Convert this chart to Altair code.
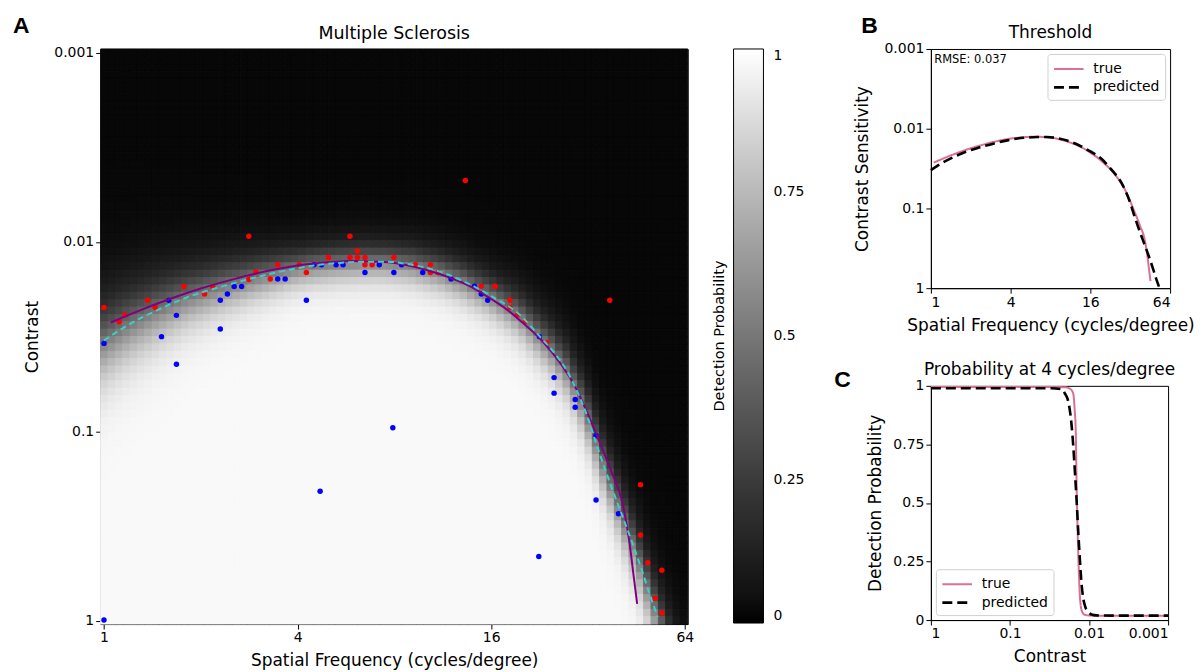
import altair as alt
import numpy as np
import pandas as pd

alt.data_transformers.disable_max_rows()

# ---------------- data ----------------
# "true" threshold curve (purple in A, pink in B): spatial frequency, contrast
true_freq = [1.05, 1.3, 1.6, 2.0, 2.5, 3.0, 4.0, 5.0, 6.0, 7.0, 8.0, 10, 12, 14, 16,
             18, 20, 23, 26, 29, 32, 35, 38, 41, 43, 44.5, 45.5]
true_contrast = [0.0266, 0.0229, 0.0200, 0.0176, 0.0158, 0.0146, 0.0133, 0.0128, 0.0126,
                 0.0127, 0.0129, 0.0140, 0.0155, 0.0174, 0.0200, 0.0229, 0.0266, 0.0331,
                 0.0427, 0.0569, 0.0813, 0.117, 0.166, 0.240, 0.380, 0.603, 0.813]

# "predicted" threshold curve (cyan dashed in A, black dashed in B)
pred_freq = [1.0, 1.2, 1.465, 1.8, 2.35, 3.0, 3.78, 4.5, 5.39, 6.35, 7.5, 9.08, 11, 13,
             16, 19.5, 23, 25, 27.5, 30, 32, 34, 36, 38, 41, 44, 47, 50, 52.7]
pred_contrast = [0.0331, 0.0272, 0.0229, 0.0197, 0.0171, 0.0153, 0.0140, 0.0133, 0.0129,
                 0.0127, 0.0127, 0.0132, 0.0143, 0.0160, 0.0193, 0.0240, 0.0324, 0.0380,
                 0.0479, 0.0646, 0.0851, 0.117, 0.155, 0.200, 0.282, 0.389, 0.537, 0.741, 0.955]

# width (in decades, 10%-90%) of the probability transition in the heatmap
width_freq = [1, 2, 4, 8, 16, 32, 64]
width_dec = [0.55, 0.38, 0.26, 0.25, 0.28, 0.38, 0.45]
p_floor, p_ceil = 0.02, 0.98

# observed trials
red_freq = [2.82, 1.0, 1.115, 1.162, 1.366, 1.442, 1.773, 2.055, 2.18, 2.97, 2.82, 3.29,
            3.47, 4.05, 4.26, 4.99, 5.82, 6.14, 5.82, 6.14, 6.48, 6.48, 6.82, 7.97, 9.30,
            10.35, 10.35, 10.93, 13.3, 14.9, 16.45, 18.3, 18.3, 19.3, 20.4, 23.8, 37.4,
            46.6, 46.6, 49.1, 54.3, 51.7, 54.3]
red_contrast = [0.00933, 0.0222, 0.0264, 0.0243, 0.0203, 0.0222, 0.01718, 0.01884, 0.01726,
                0.01439, 0.01578, 0.0157, 0.0132, 0.0132, 0.01449, 0.01208, 0.00933, 0.01114,
                0.01208, 0.01208, 0.01208, 0.0132, 0.0132, 0.01208, 0.0132, 0.0132, 0.01449,
                0.01449, 0.00473, 0.0171, 0.0171, 0.0203, 0.0222, 0.0243, 0.0264, 0.0340,
                0.0203, 0.191, 0.352, 0.493, 0.540, 0.762, 0.910]
blue_freq = [1.0, 1.59, 1.68, 1.51, 1.68, 2.30, 2.42, 2.30, 2.54, 2.68, 3.47, 3.66, 4.26,
             4.50, 4.75, 5.27, 5.54, 6.48, 7.18, 7.97, 8.42, 9.80, 12.0, 14.2, 14.9, 15.6,
             22.6, 25.1, 25.1, 29.2, 29.2, 33.9, 33.9, 39.8, 22.5, 7.91, 4.70, 1.0]
blue_contrast = [0.0343, 0.0203, 0.0244, 0.0316, 0.0442, 0.0203, 0.01884, 0.0288, 0.01718,
                 0.01718, 0.0157, 0.0157, 0.0203, 0.0132, 0.0132, 0.0132, 0.0132, 0.01449,
                 0.0132, 0.01449, 0.0132, 0.01449, 0.0157, 0.0171, 0.01884, 0.0203, 0.0316,
                 0.0520, 0.0628, 0.0679, 0.0745, 0.105, 0.230, 0.272, 0.458, 0.0957, 0.207, 0.99]

# panel C: probability at 4 cycles/degree
c_true_contrast = [1.0, 0.1, 0.03, 0.02, 0.018, 0.0165, 0.0157, 0.0152, 0.0147, 0.0144,
                   0.0141, 0.0138, 0.0134, 0.0129, 0.0122, 0.0112, 0.0095, 0.005, 0.001]
c_true_prob = [0.995, 0.995, 0.995, 0.994, 0.99, 0.98, 0.96, 0.90, 0.80, 0.60, 0.45, 0.33,
               0.19, 0.08, 0.035, 0.022, 0.019, 0.018, 0.018]
c_pred_contrast = [1.0, 0.1, 0.03, 0.022, 0.0204, 0.0182, 0.0162, 0.015, 0.0143, 0.0136,
                   0.013, 0.0124, 0.0118, 0.0112, 0.0102, 0.0093, 0.008, 0.005, 0.001]
c_pred_prob = [0.99, 0.99, 0.99, 0.985, 0.97, 0.93, 0.79, 0.62, 0.50, 0.36, 0.25, 0.15,
               0.09, 0.058, 0.035, 0.024, 0.02, 0.019, 0.019]

rmse_label = "RMSE: 0.037"
titles = {"A": "Multiple Sclerosis", "B": "Threshold", "C": "Probability at 4 cycles/degree"}

# ---------------- heatmap grid (model field around predicted threshold) ----------------
lx_edges = np.linspace(-0.034, 6.03, 81)
ly_edges = np.linspace(-3.019, 0.017, 79)
lx_c = (lx_edges[:-1] + lx_edges[1:]) / 2
ly_c = (ly_edges[:-1] + ly_edges[1:]) / 2
plx = np.log2(pred_freq)
ply = np.log10(pred_contrast)
thr = np.interp(lx_c, plx, ply)
hi = lx_c > plx[-1]
thr[hi] = ply[-1] + (lx_c[hi] - plx[-1]) * (ply[-1] - ply[-2]) / (plx[-1] - plx[-2])
lo = lx_c < plx[0]
thr[lo] = ply[0] + (lx_c[lo] - plx[0]) * (ply[1] - ply[0]) / (plx[1] - plx[0])
wid = np.interp(lx_c, np.log2(width_freq), width_dec)
kk = 2 * np.log(9) / wid

rows = []
for i in range(len(lx_c)):
    for j in range(len(ly_c)):
        p = p_floor + (p_ceil - p_floor) / (1 + np.exp(-kk[i] * (ly_c[j] - thr[i])))
        rows.append((2 ** lx_edges[i], 2 ** lx_edges[i + 1],
                     10 ** ly_edges[j], 10 ** ly_edges[j + 1], float(p)))
heat_df = pd.DataFrame(rows, columns=["f0", "f1", "c0", "c1", "p"])

true_df = pd.DataFrame({"f": true_freq, "c": true_contrast})
pred_df = pd.DataFrame({"f": pred_freq, "c": pred_contrast})
red_df = pd.DataFrame({"f": red_freq, "c": red_contrast})
blue_df = pd.DataFrame({"f": blue_freq, "c": blue_contrast})

FONT = "DejaVu Sans"
LETTER_FONT = "Liberation Sans"
FMT = ".3~f"


def letter(ch, dx, dy):
    return alt.Chart(pd.DataFrame({"t": [ch]})).mark_text(
        align="left", baseline="alphabetic", font=LETTER_FONT, fontWeight="bold",
        fontSize=23, color="black"
    ).encode(x=alt.value(dx), y=alt.value(dy), text="t:N")


def title_text(txt, cx, cy, size=17):
    return alt.Chart(pd.DataFrame({"t": [txt]})).mark_text(
        align="center", baseline="middle", font=FONT, fontSize=size, color="black"
    ).encode(x=alt.value(cx), y=alt.value(cy), text="t:N")


def line_legend(orient):
    return alt.Legend(title=None, orient=orient, fillColor="white", strokeColor="#d0d0d0",
                      cornerRadius=3, padding=5, labelFontSize=14,
                      symbolType="M-1,0H2.3", symbolStrokeWidth=2.2, symbolSize=324,
                      rowPadding=1, labelOffset=20, offset=5)


# ---------------- Panel A ----------------
WA, HA = 589, 577
xA = alt.Scale(type="log", base=2, domain=[2 ** -0.034, 2 ** 6.03], nice=False)
yA = alt.Scale(type="log", domain=[10 ** -3.019, 10 ** 0.017], nice=False, reverse=True)
xAxA = alt.Axis(values=[1, 4, 16, 64], format=FMT, title="Spatial Frequency (cycles/degree)",
                titlePadding=8)
yAxA = alt.Axis(values=[0.001, 0.01, 0.1, 1], format=FMT, title="Contrast", titlePadding=12)

heat = alt.Chart(heat_df).mark_rect(strokeWidth=1).encode(
    x=alt.X("f0:Q", scale=xA, axis=xAxA),
    x2="f1:Q",
    y=alt.Y("c0:Q", scale=yA, axis=yAxA),
    y2="c1:Q",
    color=alt.Color("p:Q", scale=alt.Scale(domain=[0, 1], range=["#000000", "#ffffff"]),
                    legend=alt.Legend(title="Detection Probability", values=[0, 0.25, 0.5, 0.75, 1],
                                      format=".2~f", direction="vertical", orient="right",
                                      gradientLength=576, gradientThickness=30,
                                      gradientStrokeColor="black", gradientStrokeWidth=1,
                                      titleOrient="left", titleAnchor="middle",
                                      titleFontSize=14.5, titleFontWeight="normal",
                                      titlePadding=6, labelFontSize=14, labelOffset=10,
                                      labelBaseline="middle", labelOverlap=False,
                                      offset=24)),
    stroke=alt.Stroke("p:Q", scale=alt.Scale(domain=[0, 1], range=["#000000", "#ffffff"]),
                      legend=None),
)
red_pts = alt.Chart(red_df).mark_circle(size=30, color="#ff0000", opacity=1).encode(
    x=alt.X("f:Q", scale=xA), y=alt.Y("c:Q", scale=yA))
blue_pts = alt.Chart(blue_df).mark_circle(size=30, color="#0000ff", opacity=1).encode(
    x=alt.X("f:Q", scale=xA), y=alt.Y("c:Q", scale=yA))
true_line = alt.Chart(true_df).mark_line(color="#800080", strokeWidth=2,
                                         interpolate="monotone").encode(
    x=alt.X("f:Q", scale=xA), y=alt.Y("c:Q", scale=yA))
pred_line = alt.Chart(pred_df).mark_line(color="#38d0c8", strokeWidth=2, strokeDash=[6, 4],
                                         interpolate="monotone").encode(
    x=alt.X("f:Q", scale=xA), y=alt.Y("c:Q", scale=yA))

panelA = alt.layer(heat, red_pts, blue_pts, true_line, pred_line,
                   title_text(titles["A"], WA / 2, -15, 17.5), letter("A", -88, -16)).properties(
    width=WA, height=HA)

# ---------------- Panel B ----------------
series_scale = alt.Scale(domain=["true", "predicted"], range=["#DB7093", "#000000"])
dash_scale = alt.Scale(domain=["true", "predicted"], range=[[1, 0], [10, 5]])
width_scale = alt.Scale(domain=["true", "predicted"], range=[2, 2.6])

b_df = pd.concat([true_df.assign(series="true", k=range(len(true_df))),
                  pred_df.assign(series="predicted", k=range(len(pred_df)))])
WB, HB = 240, 240
xB = alt.Scale(type="log", base=2, domain=[1, 64], nice=False)
yB = alt.Scale(type="log", domain=[0.001, 1], nice=False, reverse=True)

legB = line_legend("top-right")
linesB = alt.Chart(b_df).mark_line(interpolate="monotone").encode(
    x=alt.X("f:Q", scale=xB, axis=alt.Axis(values=[1, 4, 16, 64], format=FMT,
                                           title="Spatial Frequency (cycles/degree)",
                                           titlePadding=8)),
    y=alt.Y("c:Q", scale=yB, axis=alt.Axis(values=[0.001, 0.01, 0.1, 1], format=FMT,
                                           title="Contrast Sensitivity", titlePadding=13)),
    color=alt.Color("series:N", scale=series_scale, legend=legB),
    strokeDash=alt.StrokeDash("series:N", scale=dash_scale, legend=legB),
    strokeWidth=alt.StrokeWidth("series:N", scale=width_scale, legend=None),
    order="k:Q",
)
rmse = alt.Chart(pd.DataFrame({"f": [1.06], "c": [0.00138], "t": [rmse_label]})).mark_text(
    align="left", baseline="middle", fontSize=11.5, font=FONT, color="black").encode(
    x=alt.X("f:Q", scale=xB), y=alt.Y("c:Q", scale=yB), text="t:N")
panelB = alt.layer(linesB, rmse, title_text(titles["B"], WB / 2, -16),
                   letter("B", -70, -16)).properties(width=WB, height=HB)

# ---------------- Panel C ----------------
c_df = pd.concat([
    pd.DataFrame({"c": c_true_contrast, "p": c_true_prob, "series": "true",
                  "k": range(len(c_true_contrast))}),
    pd.DataFrame({"c": c_pred_contrast, "p": c_pred_prob, "series": "predicted",
                  "k": range(len(c_pred_contrast))}),
])
WC, HC = 238, 235
xC = alt.Scale(type="log", domain=[0.001, 1], nice=False, reverse=True)
yC = alt.Scale(domain=[0, 1], nice=False)
legC = line_legend("bottom-left")
linesC = alt.Chart(c_df).mark_line(interpolate="monotone").encode(
    x=alt.X("c:Q", scale=xC, axis=alt.Axis(values=[1, 0.1, 0.01, 0.001], format=FMT,
                                           title="Contrast", titlePadding=8)),
    y=alt.Y("p:Q", scale=yC, axis=alt.Axis(values=[0, 0.25, 0.5, 0.75, 1], format=".2~f",
                                           title="Detection Probability", titlePadding=8)),
    color=alt.Color("series:N", scale=series_scale, legend=legC),
    strokeDash=alt.StrokeDash("series:N", scale=dash_scale, legend=legC),
    strokeWidth=alt.StrokeWidth("series:N", scale=width_scale, legend=None),
    order="k:Q",
)
panelC = alt.layer(linesC, title_text(titles["C"], WC / 2, -16),
                   letter("C", -97, 1)).properties(width=WC, height=HC)

right = alt.vconcat(panelB, panelC, spacing=26).resolve_scale(
    x="independent", y="independent", color="independent", strokeDash="independent",
    strokeWidth="independent").resolve_legend(color="independent", strokeDash="independent")
left = alt.vconcat(panelA).resolve_scale(color="independent")

chart = alt.hconcat(left, right, spacing=27).resolve_scale(
    x="independent", y="independent", color="independent", strokeDash="independent",
    strokeWidth="independent", stroke="independent").resolve_legend(
    color="independent", strokeDash="independent").properties(
    padding={"left": 4, "top": 5, "right": 0, "bottom": 0}
).configure(font=FONT).configure_axis(
    labelFont=FONT, titleFont=FONT, labelFontSize=14, titleFontSize=17,
    titleFontWeight="normal", grid=False, domainColor="black", tickColor="black",
    labelColor="black", titleColor="black", tickSize=5, labelPadding=2,
).configure_legend(labelFont=FONT, titleFont=FONT, labelColor="black", titleColor="black"
).configure_view(stroke="black", strokeWidth=1)

chart.save("out.html", embed_options={"renderer": "svg", "actions": False})
